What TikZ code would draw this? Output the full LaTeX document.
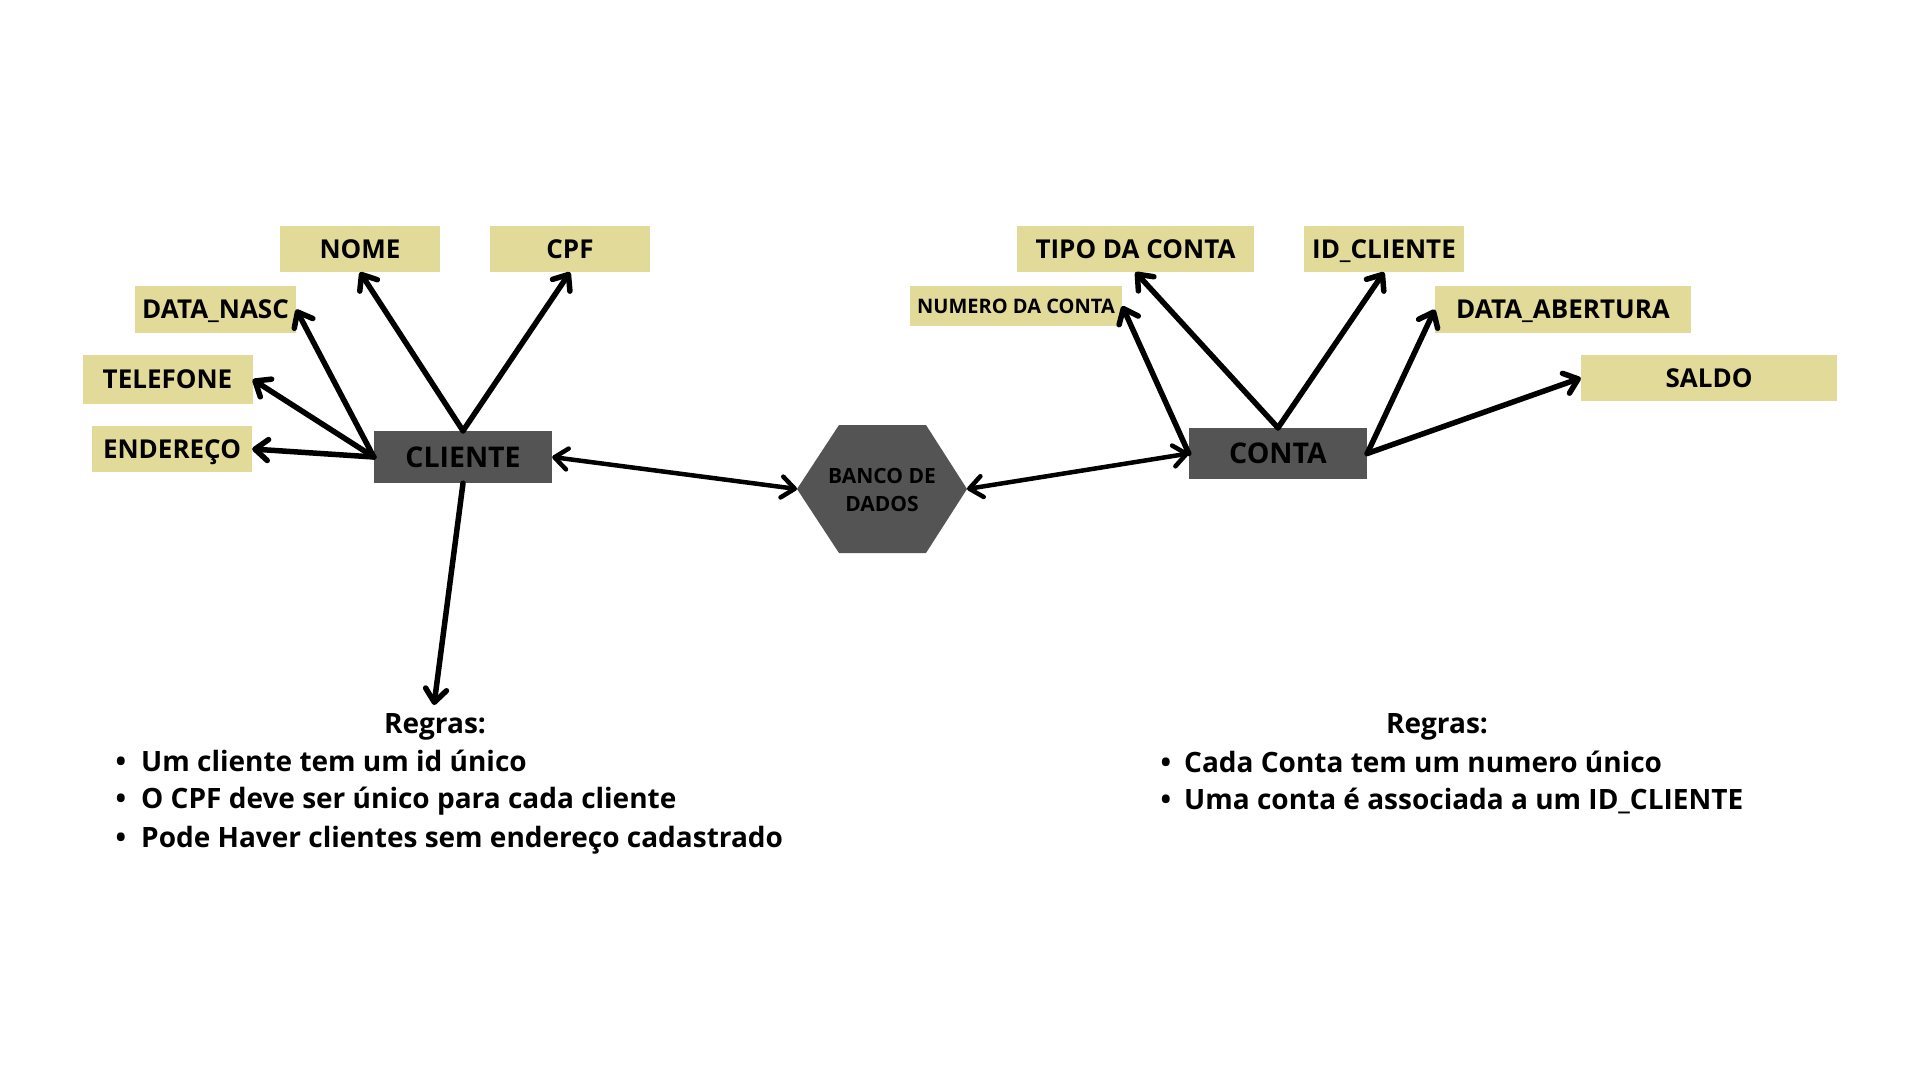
\documentclass[tikz,border=0pt]{standalone}
\usepackage{fontspec}
\setmainfont{Open Sans}
\usetikzlibrary{arrows.meta}

\definecolor{attrfill}{HTML}{E2DA99}
\definecolor{entfill}{HTML}{545454}

\tikzset{
  attr/.style={fill=attrfill, inner sep=0pt, minimum height=46pt,
    text height=18.6pt, text depth=0pt,
    font=\fontsize{26}{30}\selectfont\bfseries},
  entity/.style={fill=entfill, inner sep=0pt, minimum width=178pt,
    text height=20.4pt, text depth=0pt,
    font=\fontsize{28.5}{33}\selectfont\bfseries},
  barb/.tip={Straight Barb[length=13pt,width=21pt,round]},
  link/.style={line width=5.5pt, line cap=round, -barb},
  dlink/.style={line width=4.5pt, line cap=round, barb-barb},
  regra/.style={anchor=base west, inner sep=0pt,
    font=\fontsize{28}{33}\selectfont\bfseries},
}

\begin{document}
\begin{tikzpicture}[x=1pt, y=-1pt]
            \useasboundingbox[fill=white] (0, 0) rectangle (1920, 1080);

            % cliente e atributos
            \node[entity, minimum height=52pt] (cliente) at (463, 457) {CLIENTE};
            \node[attr, minimum width=160pt] (nome) at (360, 249) {NOME};
            \node[attr, minimum width=160pt] (cpf) at (570, 249) {CPF};
            \node[attr, minimum width=161pt, minimum height=47pt] (datanasc) at (215.5, 309.5) {DATA\_NASC};
            \node[attr, minimum width=170pt, minimum height=49pt] (telefone) at (167.5, 379.5) {TELEFONE};
            \node[attr, minimum width=160pt] (endereco) at (172, 449) {ENDEREÇO};

            % banco de dados
            \fill[entfill] (797, 489) -- (839, 425) -- (926, 425) -- (967, 489)
                -- (926, 553) -- (839, 553) -- cycle;
            \node[align=center, font=\fontsize{21}{28}\selectfont\bfseries] (banco) at (882, 490) {BANCO DE\\DADOS};
            \coordinate (bancoW) at (797, 489);
            \coordinate (bancoE) at (967, 489);

            % conta e atributos
            \node[entity, minimum height=51pt] (conta) at (1278, 453.5) {CONTA};
            \node[attr, minimum width=212pt, minimum height=40pt, text height=14.3pt, font=\fontsize{20}{24}\selectfont\bfseries] (numero) at (1016, 306) {NUMERO DA CONTA};
            \node[attr, minimum width=237pt] (tipo) at (1135.5, 249) {TIPO DA CONTA};
            \node[attr, minimum width=160pt] (idcliente) at (1384, 249) {ID\_CLIENTE};
            \node[attr, minimum width=256pt, minimum height=47pt] (abertura) at (1563, 309.5) {DATA\_ABERTURA};
            \node[attr, minimum width=256pt] (saldo) at (1709, 378) {SALDO};

            % regras
            \coordinate (regrasC) at (434, 705);
            \node[font=\fontsize{28}{33}\selectfont\bfseries, anchor=base] (regrasA) at (435, 733) {Regras:};
            \node[regra] (rc1) at (141, 771) {\llap{•\hspace{15pt}}Um cliente tem um id único};
            \node[regra] (rc2) at (141, 808) {\llap{•\hspace{15pt}}O CPF deve ser único para cada cliente};
            \node[regra] (rc3) at (141, 847) {\llap{•\hspace{15pt}}Pode Haver clientes sem endereço cadastrado};
            \node[font=\fontsize{28}{33}\selectfont\bfseries, anchor=base] (regrasB) at (1437, 733) {Regras:};
            \node[regra] (rk1) at (1184, 772) {\llap{•\hspace{13pt}}Cada Conta tem um numero único};
            \node[regra] (rk2) at (1184, 809) {\llap{•\hspace{13pt}}Uma conta é associada a um ID\_CLIENTE};

            % setas
            \draw[link] (cliente.north) -- (nome.south);
            \draw[link] (cliente.north) -- (cpf.south);
            \draw[link] (cliente.west) -- (datanasc.east);
            \draw[link] (cliente.west) -- (telefone.east);
            \draw[link] (cliente.west) -- (endereco.east);
            \draw[link] (cliente.south) -- (regrasC);
            \draw[dlink] (cliente.east) -- (bancoW);
            \draw[dlink] (bancoE) -- (conta.west);
            \draw[link] (conta.west) -- (numero.east);
            \draw[link] (conta.north) -- (tipo.south);
            \draw[link] (conta.north) -- (idcliente.south);
            \draw[link] (conta.east) -- (abertura.west);
            \draw[link] (conta.east) -- (saldo.west);
\end{tikzpicture}
\end{document}
